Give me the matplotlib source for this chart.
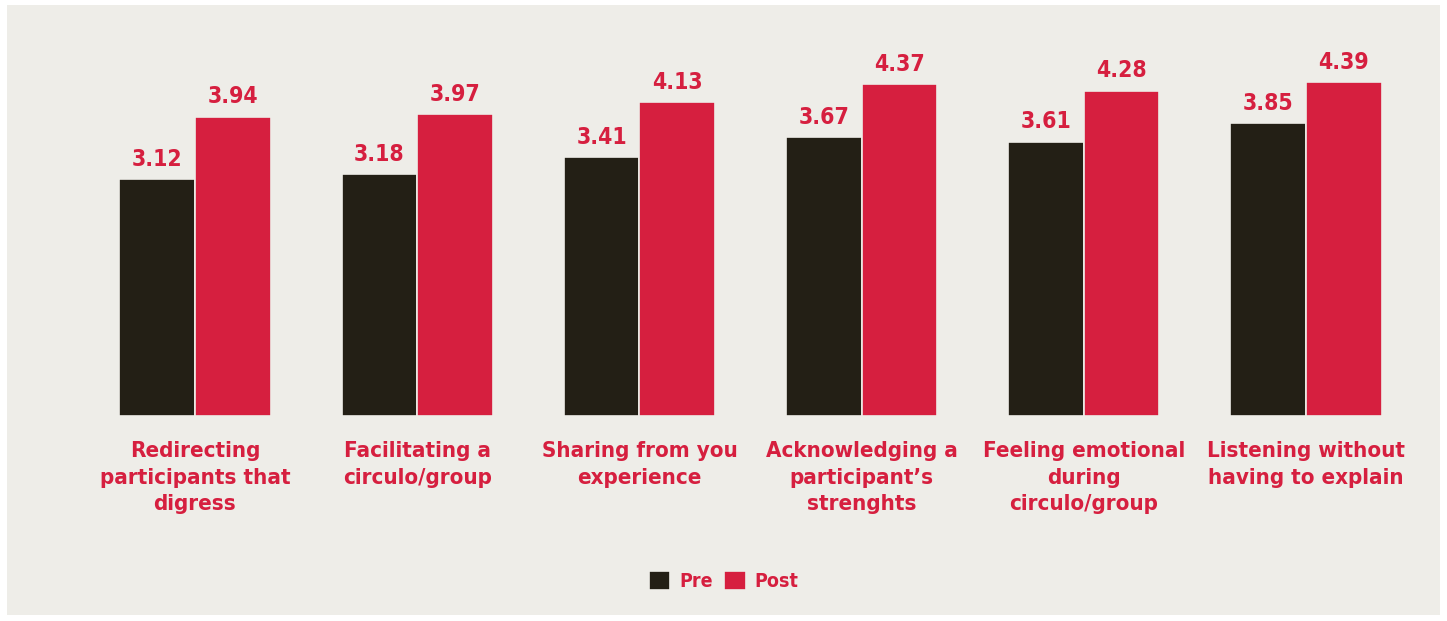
import numpy as np
import matplotlib
matplotlib.use("Agg")
import matplotlib.pyplot as plt
from matplotlib.patches import Rectangle
from matplotlib import font_manager

categories = [
    "Redirecting\nparticipants that\ndigress",
    "Facilitating a\ncirculo/group",
    "Sharing from you\nexperience",
    "Acknowledging a\nparticipant\u2019s\nstrenghts",
    "Feeling emotional\nduring\ncirculo/group",
    "Listening without\nhaving to explain",
]
pre = [3.12, 3.18, 3.41, 3.67, 3.61, 3.85]
post = [3.94, 3.97, 4.13, 4.37, 4.28, 4.39]

DARK = "#231f15"
RED = "#d61f3f"
BG = "#eeede8"

# pick a narrow face if one is installed
names = {f.name for f in font_manager.fontManager.ttflist}
family = ["Liberation Sans Narrow"] if "Liberation Sans Narrow" in names else ["DejaVu Sans"]
plt.rcParams["font.family"] = family + ["DejaVu Sans"]
plt.rcParams["font.stretch"] = "condensed"

W, H = 1447, 621
fig = plt.figure(figsize=(W / 100, H / 100), dpi=100, facecolor="white")
fig.patches.append(Rectangle((7 / W, 6 / H), (1440 - 7) / W, (616 - 6) / H,
                             transform=fig.transFigure, facecolor=BG,
                             edgecolor="none", zorder=-10))

base_px = 416
ax = fig.add_axes([0, (H - base_px) / H, 1, (base_px - 36) / H])
ax.set_zorder(5)
ax.set_facecolor("none")
ax.set_ylim(0, 5.0)
spacing = (1306 - 195) / 5
ax.set_xlim(-195 / spacing, (W - 195) / spacing)

x = np.arange(len(categories))
w = 0.34
ax.bar(x - w / 2, pre, w, color=DARK, edgecolor=BG, linewidth=1.2, label="Pre")
ax.bar(x + w / 2, post, w, color=RED, edgecolor=BG, linewidth=1.2, label="Post")

for xi, a, b in zip(x, pre, post):
    ax.annotate(f"{a:.2f}", (xi - w / 2, a), xytext=(0, 6), textcoords="offset points",
                ha="center", va="bottom", color=RED, fontsize=16.5, fontweight="bold")
    ax.annotate(f"{b:.2f}", (xi + w / 2, b), xytext=(0, 6), textcoords="offset points",
                ha="center", va="bottom", color=RED, fontsize=16.5, fontweight="bold")
    ax.annotate(categories[xi], (xi, 0), xytext=(0, -18), textcoords="offset points",
                ha="center", va="top", color=RED, fontsize=16, fontweight="bold",
                linespacing=1.42, annotation_clip=False)

for s in ax.spines.values():
    s.set_visible(False)
ax.set_xticks([])
ax.set_yticks([])

leg = fig.legend(loc="center", bbox_to_anchor=(0.5, (H - 581) / H), ncol=2, frameon=False,
                 handlelength=1.1, handleheight=1.1, handletextpad=0.45,
                 columnspacing=0.6, labelcolor=RED,
                 prop={"weight": "bold", "size": 14, "stretch": "condensed"})
leg.set_zorder(6)

fig.savefig("out.png", dpi=100, facecolor="white")
